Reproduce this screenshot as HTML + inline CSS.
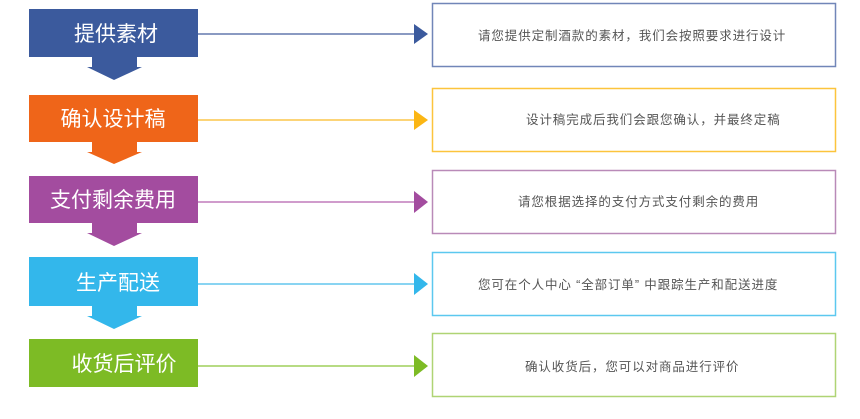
<!DOCTYPE html>
<html><head><meta charset="utf-8"><style>
body{margin:0;background:#fff;width:860px;height:414px;overflow:hidden}
svg text{font-family:"Liberation Sans","Noto Sans CJK SC",sans-serif}
</style></head><body>
<svg width="860" height="414" viewBox="0 0 860 414" xmlns="http://www.w3.org/2000/svg">
<g>
<polygon points="92,57 137,57 137,67 142,67 114,80 87,67 92,67" fill="#3b5a9d"/>
<polygon points="92,142 137,142 137,152 142,152 114,164 87,152 92,152" fill="#ef6519"/>
<polygon points="92,223 137,223 137,233 142,233 114,246 87,233 92,233" fill="#a34c9f"/>
<polygon points="92,306 137,306 137,316 142,316 114,329 87,316 92,316" fill="#33b7eb"/>
</g>
<rect x="29" y="9" width="169" height="48" fill="#3b5a9d"/>
<rect x="29" y="95" width="169" height="47" fill="#ef6519"/>
<rect x="29" y="176" width="169" height="47" fill="#a34c9f"/>
<rect x="29" y="257" width="169" height="49" fill="#33b7eb"/>
<rect x="29" y="339" width="169" height="48" fill="#7dbb25"/>
<g fill="#fff" font-size="21" text-anchor="middle">
<text x="116" y="41">提供素材</text>
<text x="113" y="126">确认设计稿</text>
<text x="113" y="207">支付剩余费用</text>
<text x="118" y="290">生产配送</text>
<text x="124" y="371">收货后评价</text>
</g>
<line x1="198" y1="34" x2="416" y2="34" stroke="#6479ad" stroke-width="1.5"/>
<polygon points="414,24 428,34 414,44" fill="#3b5a9d"/>
<line x1="198" y1="120" x2="416" y2="120" stroke="#fcc54a" stroke-width="1.5"/>
<polygon points="414,110 428,120 414,130" fill="#fbb614"/>
<line x1="198" y1="202" x2="416" y2="202" stroke="#c07cbc" stroke-width="1.5"/>
<polygon points="414,191 428,202 414,213" fill="#a34c9f"/>
<line x1="198" y1="284" x2="416" y2="284" stroke="#62c6ee" stroke-width="1.5"/>
<polygon points="414,273 428,284 414,295" fill="#33b7eb"/>
<line x1="198" y1="366" x2="416" y2="366" stroke="#9fcf5a" stroke-width="1.5"/>
<polygon points="414,355 428,366 414,377" fill="#7dbb25"/>
<g fill="none" stroke-width="1.5">
<rect x="432.5" y="3.5" width="403" height="63" stroke="#7186b8"/>
<rect x="432.5" y="88.5" width="403" height="63" stroke="#fcc43c"/>
<rect x="432.5" y="170.5" width="403" height="63" stroke="#b98ab8"/>
<rect x="432.5" y="252.5" width="403" height="63" stroke="#5cc8ef"/>
<rect x="432.5" y="333.5" width="403" height="63" stroke="#afd474"/>
</g>
<g fill="#555" font-size="12.5" letter-spacing="0.9">
<text x="478" y="40">请您提供定制酒款的素材，我们会按照要求进行设计</text>
<text x="526" y="124">设计稿完成后我们会跟您确认，并最终定稿</text>
<text x="518" y="206">请您根据选择的支付方式支付剩余的费用</text>
<text x="478" y="289">您可在个人中心 “全部订单” 中跟踪生产和配送进度</text>
<text x="525" y="371">确认收货后，您可以对商品进行评价</text>
</g>
</svg>
</body></html>
